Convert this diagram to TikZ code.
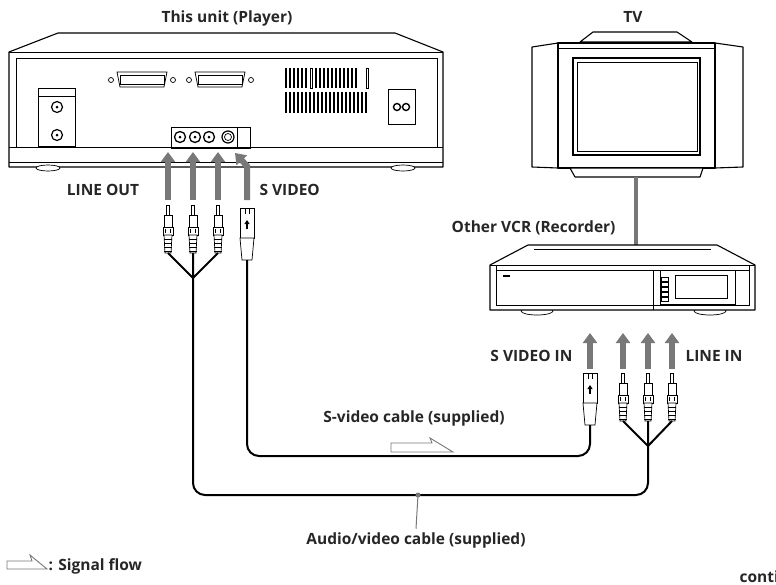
\documentclass[tikz,border=0pt]{standalone}
\usepackage{fontspec}
\setmainfont{Open Sans}
\usetikzlibrary{arrows.meta}
\definecolor{flow}{RGB}{120,120,120}
\tikzset{
  unit/.style={draw=black,line width=1.1pt,fill=white,line join=round},
  thin/.style={draw=black,line width=0.7pt},
  cable/.style={draw=black,line width=2pt,rounded corners=12pt},
  signal/.style={draw=flow,line width=6pt,-{Triangle[width=14pt,length=10pt]}},
  lbl/.style={font=\bfseries\fontsize{15.5}{18}\selectfont,text=black!85},
  rca/.pic={
    \draw[thin,fill=white] (-1.5,0) rectangle (1.5,10);
    \draw[thin,fill=white] (-4,10) rectangle (4,22);
    \draw[thin,fill=white] (-5,22) rectangle (5,30);
    \draw[thin] (-2.5,24) -- (-2.5,28) (2.5,24) -- (2.5,28);
    \draw[thin,fill=white] (-4,30) -- (4,30) -- (3,48) -- (-3,48) -- cycle;
    \foreach \k in {34,38,42,46} \draw[thin] (-3.6,\k) -- (3.6,\k);
  },
  sjack/.pic={
    \draw[thin,fill=white] (-7,0) rectangle (7,30);
    \draw[thin] (-2,0) -- (-2,6) (2,0) -- (2,6);
    \draw[-{Triangle[width=5pt,length=4pt]},line width=1.2pt] (0,21) -- (0,12);
    \draw[thin,fill=white] (-7,30) -- (7,30) -- (5,52) -- (-5,52) -- cycle;
  }
}
\begin{document}
\begin{tikzpicture}[x=1pt,y=-1pt]
\useasboundingbox (0,0) rectangle (776,584);

% player
\node[lbl] (player) at (227,18) {This unit (Player)};
\draw[unit] (9,52) -- (58,33) -- (395,33) -- (443,52) -- (443,167) -- (9,167) -- cycle;
\draw[thin] (9,52) -- (443,52);
\draw[thin] (16,147) -- (16,58) -- (437,58) -- (437,147);
\draw[thin] (9,147) -- (443,147) (9,162) -- (443,162);
\draw[thin,fill=white] (48,168) ellipse (12 and 3) (403,168) ellipse (12 and 3);
\draw[thin] (38,88) rectangle (75,146) (38,96) -- (75,96);
\foreach \y in {107,135} {
  \draw[thin,line width=1.2pt] (57,\y) circle (5.5);
  \fill (57,\y) circle (1.5);
}
\foreach \a/\b in {117/167,195/245} {
  \draw[thin] (\a,72) -- (\b,72) -- (\b-3,87) -- (\a+3,87) -- cycle;
  \draw[thin] (\a+3,75) rectangle (\b-3,84);
  \draw[thin] (\a-6,80) circle (2.5) (\b+6,80) circle (2.5);
}
\foreach \x in {285,289,...,305,315,319,...,355}
  \fill (\x,68) rectangle (\x+2.2,88);
\draw[thin] (310,68) rectangle (312.5,88) (366,68) rectangle (368.5,88);
\foreach \x in {285,289,...,365}
  \fill (\x,92) rectangle (\x+2.2,113);
\draw[thin] (388,89) rectangle (415,124);
\draw[line width=1.4pt] (397,107) circle (3.5) (406,107) circle (3.5);
\draw[thin] (171,127) rectangle (250,148) (237,127) -- (237,148);
\foreach \x/\n in {180/pa,195/pb,209/pc} {
  \node[circle,draw,line width=1.3pt,minimum size=11pt,inner sep=0pt] (\n) at (\x,137) {};
  \fill (\x,137) circle (1.5);
}
\node[circle,draw,line width=1.2pt,minimum size=12pt,inner sep=0pt] (ps) at (228,137) {};
\draw[thin] (228,137) circle (3.5);

% gray arrows at player
\coordinate (oa) at (168,200); \coordinate (ob) at (193,200);
\coordinate (oc) at (218,200); \coordinate (os) at (247,200);
\draw[signal] (oa) -- (168,152);
\draw[signal] (ob) -- (193,152);
\draw[signal] (oc) -- (218,152);
\draw[signal] (os) -- (247,166) -- (235,153);
\node[lbl] (lineout) at (103,190) {LINE OUT};
\node[lbl,anchor=west] (svideo) at (256,190) {S VIDEO};

% plugs at player
\foreach \x in {168,193,218} \pic at (\x,205) {rca};
\pic at (247,208) {sjack};
\coordinate (ya) at (193,278);
\draw[line width=2pt] (168,253) -- (ya) (218,253) -- (ya) (193,253) -- (ya);

% TV
\node[lbl] (tv) at (633,17) {TV};
\draw[unit] (580,42) -- (593,32) -- (677,32) -- (692,42) -- cycle;
\draw[unit] (532,47) -- (558,43) -- (558,168) -- (532,167) -- cycle;
\draw[unit] (715,43) -- (743,47) -- (743,167) -- (715,168) -- cycle;
\draw[unit] (558,43) rectangle (715,168);
\draw[thin] (558,48) -- (715,48);
\draw[thin,line width=1.1pt] (573,58) rectangle (700,155);
\draw[thin] (577,62) rectangle (697,151);
\draw[unit] (570,168) -- (703,168) -- (700,177) -- (575,177) -- cycle;
\draw[flow,line width=4pt] (636,177) -- (636,245);

% recorder
\node[lbl,anchor=east] (other) at (619,228) {Other VCR (Recorder)};
\draw[thin,fill=white] (537,311) ellipse (16 and 4) (710,311) ellipse (16 and 4);
\draw[unit] (528,245) -- (717,245) -- (755,265) -- (755,310) -- (490,310) -- (490,265) -- cycle;
\draw[thin] (490,265) -- (755,265) (496,270) -- (749,270) (496,265) -- (496,305) -- (749,305) -- (749,265);
\draw[thin] (534,249) -- (711,249);
\draw[thin] (653,270) -- (653,310);
\draw[thin] (660,270) rectangle (735,304) (675,275) rectangle (727,298);
\foreach \y in {277,282,287,292,297} \draw[thin] (661,\y) rectangle (668,\y+4);
\fill (503,275) rectangle (510,277);

% gray arrows at recorder
\foreach \x/\n in {590/ia,623/ib,648/ic,672/id} {
  \coordinate (\n) at (\x,369);
  \draw[signal] (\n) -- (\x,333);
}
\node[lbl,anchor=east] (svin) at (576,356) {S VIDEO IN};
\node[lbl,anchor=west] (linein) at (682,356) {LINE IN};

% plugs at recorder
\foreach \x in {623,648,672} \pic at (\x,373) {rca};
\pic at (590,373) {sjack};
\coordinate (yb) at (648,446);
\draw[line width=2pt] (623,421) -- (yb) (672,421) -- (yb) (648,421) -- (yb);

% cables
\draw[cable] (247,260) -- (247,456) -- (590,456) -- (590,425);
\draw[cable] (ya) -- (193,495) -- (648,495) -- (yb);
\node[lbl] (svcable) at (414,418) {S-video cable (supplied)};
\draw[flow,line width=0.9pt,fill=white] (391,443) -- (432,443) -- (430,438) -- (453,452) -- (391,452) -- cycle;
\coordinate (dot) at (418,495);
\fill[flow] (dot) circle (2.5);
\node[lbl] (avcable) at (416,540) {Audio/video cable (supplied)};
\draw[flow,line width=1pt] (dot) -- (avcable.north);

% legend
\draw[flow,line width=0.9pt,fill=white] (7,561) -- (32,561) -- (30,555) -- (47,569) -- (7,569) -- cycle;
\node[lbl,anchor=west] (legend) at (45,566) {: Signal flow};
\node[lbl,anchor=west] (cont) at (736,577) {continued};
\end{tikzpicture}
\end{document}
